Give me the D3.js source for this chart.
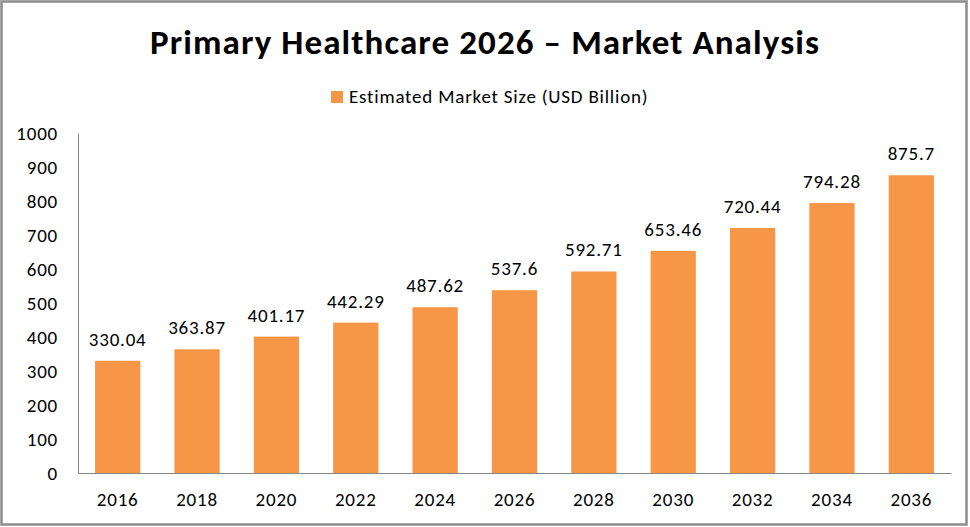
<!DOCTYPE html>
<html>
<head>
<meta charset="utf-8">
<script src="https://cdn.jsdelivr.net/npm/d3@7"></script>
<style>
  body { margin: 0; background: #fff; }
  text { font-family: Carlito, Calibri, Lato, "Open Sans", sans-serif; fill: #000; }
</style>
</head>
<body>
<div id="chart"></div>
<script>
// Chart data
const years = ["2016", "2018", "2020", "2022", "2024", "2026", "2028", "2030", "2032", "2034", "2036"];
const marketSize = [330.04, 363.87, 401.17, 442.29, 487.62, 537.6, 592.71, 653.46, 720.44, 794.28, 875.7];
const yTicks = [0, 100, 200, 300, 400, 500, 600, 700, 800, 900, 1000];
const seriesName = "Estimated Market Size (USD Billion)";
const titleText = "Primary Healthcare 2026 \u2013 Market Analysis";

const width = 970;
const height = 527;
const margin = {top: 133, right: 19, bottom: 54, left: 78};
const barColor = "#F79646";
const smallFont = "19px";
const smallSpacing = "0.8px";

const svg = d3.select("#chart")
    .append("svg")
    .attr("width", width)
    .attr("height", height);

// outer border
svg.append("rect")
    .attr("x", 1.5)
    .attr("y", 1.5)
    .attr("width", width - 5)
    .attr("height", height - 4)
    .attr("fill", "#fff")
    .attr("stroke", "#8c8c8c")
    .attr("stroke-width", 2.5);

// title
svg.append("text")
    .attr("x", width / 2)
    .attr("y", 54)
    .attr("text-anchor", "middle")
    .style("font-size", "35px")
    .style("font-weight", "bold")
    .style("letter-spacing", "1.1px")
    .text(titleText);

// legend
const legend = svg.append("g").attr("transform", "translate(331, 91)");
legend.append("rect")
    .attr("width", 12)
    .attr("height", 12)
    .attr("fill", barColor);
legend.append("text")
    .attr("x", 18)
    .attr("y", 12)
    .style("font-size", smallFont)
    .style("letter-spacing", smallSpacing)
    .text(seriesName);

const x = d3.scaleBand()
    .domain(years)
    .range([margin.left, width - margin.right])
    .paddingInner(0.43)
    .paddingOuter(0.215);

const y = d3.scaleLinear()
    .domain([0, 1000])
    .range([height - margin.bottom, margin.top]);

// bars
svg.selectAll(".bar")
    .data(years)
    .enter().append("rect")
    .attr("class", "bar")
    .attr("x", d => x(d))
    .attr("y", (d, i) => y(marketSize[i]))
    .attr("width", x.bandwidth())
    .attr("height", (d, i) => y(0) - y(marketSize[i]))
    .attr("fill", barColor);

// value labels
svg.selectAll(".val")
    .data(years)
    .enter().append("text")
    .attr("class", "val")
    .attr("x", d => x(d) + x.bandwidth() / 2)
    .attr("y", (d, i) => y(marketSize[i]) - 15)
    .attr("text-anchor", "middle")
    .style("font-size", smallFont)
    .style("letter-spacing", smallSpacing)
    .text((d, i) => marketSize[i]);

// y axis
const yAxis = svg.append("g")
    .attr("transform", `translate(${margin.left},0)`)
    .call(d3.axisLeft(y).tickValues(yTicks).tickFormat(d3.format("d")).tickSize(0).tickPadding(20));
yAxis.select(".domain").attr("stroke", "#868686");
yAxis.selectAll("text")
    .style("font-size", smallFont)
    .style("letter-spacing", smallSpacing)
    .style("font-family", "Carlito, Calibri, Lato, sans-serif");

// x axis
const xAxis = svg.append("g")
    .attr("transform", `translate(0,${height - margin.bottom})`)
    .call(d3.axisBottom(x).tickSize(0).tickPadding(20));
xAxis.select(".domain").attr("stroke", "#868686");
xAxis.selectAll("text")
    .style("font-size", smallFont)
    .style("letter-spacing", smallSpacing)
    .style("font-family", "Carlito, Calibri, Lato, sans-serif");
</script>
</body>
</html>
